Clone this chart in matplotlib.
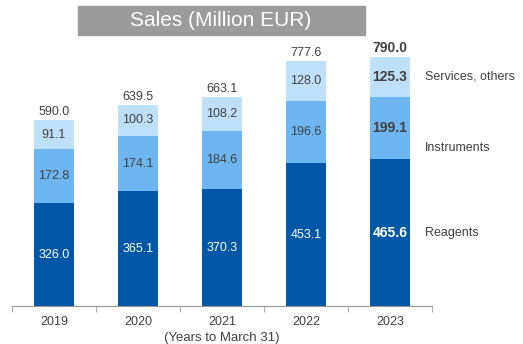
import matplotlib
matplotlib.use("Agg")
import matplotlib.pyplot as plt
import numpy as np

years = ["2019", "2020", "2021", "2022", "2023"]
reagents = [326.0, 365.1, 370.3, 453.1, 465.6]
instruments = [172.8, 174.1, 184.6, 196.6, 199.1]
services = [91.1, 100.3, 108.2, 128.0, 125.3]
totals = [590.0, 639.5, 663.1, 777.6, 790.0]
segment_names = ["Reagents", "Instruments", "Services, others"]

COLORS = ["#0057a8", "#6db6f2", "#bfe0fa"]
LABEL_COLORS = ["white", "#404040", "#404040"]
TEXT = "#404040"

plt.rcParams["font.family"] = ["Liberation Sans", "DejaVu Sans"]

fig = plt.figure(figsize=(5.23, 3.44), dpi=100)
ax = fig.add_axes([12 / 523, 1 - 306 / 344, 420 / 523, 286 / 344])

x = np.arange(len(years))
width = 40 / 84
bottom = np.zeros(len(years))
for vals, col, lc in zip([reagents, instruments, services], COLORS, LABEL_COLORS):
    vals = np.array(vals)
    ax.bar(x, vals, width, bottom=bottom, color=col, edgecolor="none")
    for i, v in enumerate(vals):
        bold = i == len(years) - 1
        ax.text(x[i], bottom[i] + v / 2, f"{v:.1f}", ha="center", va="center",
                color=lc, fontsize=10 if bold else 9,
                fontweight="bold" if bold else "normal")
    bottom += vals

for i, t in enumerate(totals):
    bold = i == len(years) - 1
    ax.text(x[i], t + 6, f"{t:.1f}", ha="center", va="bottom", color=TEXT,
            fontsize=10 if bold else 9, fontweight="bold" if bold else "normal")

# series names to the right of the last bar
last = len(years) - 1
name_y = [reagents[last] / 2,
          reagents[last] + instruments[last] * 0.18,
          reagents[last] + instruments[last] + services[last] / 2]
for name, yy in zip(segment_names, name_y):
    ax.text(x[last] + 0.42, yy, name, ha="left", va="center", color=TEXT,
            fontsize=9)

ax.set_xlim(-0.5, len(years) - 0.5)
ax.set_ylim(0, 908)
ax.set_xticks(x)
ax.set_xticklabels(years, color=TEXT, fontsize=9)
ax.set_xticks(np.arange(-0.5, len(years)), minor=True)
ax.tick_params(axis="x", which="major", length=0, pad=7)
ax.tick_params(axis="x", which="minor", length=4, color="#999999")
ax.set_yticks([])
for s in ["top", "right", "left"]:
    ax.spines[s].set_visible(False)
ax.spines["bottom"].set_color("#999999")
ax.set_xlabel("(Years to March 31)", color=TEXT, fontsize=9.5, labelpad=3)
ax.set_facecolor("none")

# grey title banner
fig.patches.append(plt.Rectangle((78 / 523, 1 - 35 / 344), 287 / 523, 29 / 344,
                                 transform=fig.transFigure, color="#9b9b9b",
                                 zorder=0))
fig.text(221 / 523, 1 - 20.5 / 344, "Sales (Million EUR)", ha="center",
         va="center", color="white", fontsize=15)

fig.savefig("out.png", dpi=100)
